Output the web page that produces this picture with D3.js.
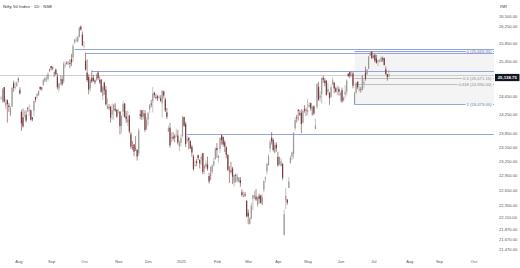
<!DOCTYPE html>
<html>
<head>
<meta charset="utf-8">
<script src="https://cdn.jsdelivr.net/npm/d3@7"></script>
<style>
html, body { margin: 0; padding: 0; background: #fff; }
svg { display: block; font-family: "Liberation Sans", Arial, sans-serif; }
</style>
</head>
<body>
<div id="chart"></div>
<script>
// daily candles: date, open, high, low, close
var candles = [
["2024-07-15",24587,24635,24522,24586],["2024-07-16",24600,24661,24587,24613],["2024-07-18",24543,24837,24504,24801],
["2024-07-19",24853,24854,24508,24531],["2024-07-22",24445,24596,24362,24509],["2024-07-23",24568,24582,24074,24479],
["2024-07-24",24445,24504,24307,24414],["2024-07-25",24230,24426,24211,24406],["2024-07-26",24423,24861,24410,24835],
["2024-07-29",24943,24999,24750,24836],["2024-07-30",24840,24971,24799,24857],["2024-07-31",24886,24984,24856,24951],
["2024-08-01",25030,25078,24956,25011],["2024-08-02",24789,24851,24686,24718],["2024-08-05",24303,24350,23893,24056],
["2024-08-06",24189,24382,23961,23993],["2024-08-07",24289,24337,24184,24297],["2024-08-08",24247,24340,24079,24117],
["2024-08-09",24387,24419,24311,24368],["2024-08-12",24321,24472,24212,24347],["2024-08-13",24343,24359,24116,24139],
["2024-08-14",24185,24196,24099,24143],["2024-08-16",24334,24563,24204,24541],["2024-08-19",24637,24638,24522,24572],
["2024-08-20",24648,24734,24602,24698],["2024-08-21",24680,24787,24654,24770],["2024-08-22",24863,24867,24784,24811],
["2024-08-23",24845,24858,24771,24823],["2024-08-26",24906,25043,24875,25010],["2024-08-27",25024,25073,24973,25017],
["2024-08-28",25031,25129,24965,25052],["2024-08-29",25035,25192,24999,25152],["2024-08-30",25249,25268,25199,25236],
["2024-09-02",25333,25333,25235,25279],["2024-09-03",25300,25321,25235,25280],["2024-09-04",25089,25216,25083,25198],
["2024-09-05",25250,25275,25127,25145],["2024-09-06",25094,25168,24801,24852],["2024-09-09",24823,24958,24753,24936],
["2024-09-10",24999,25130,24897,25041],["2024-09-11",25034,25113,24885,24918],["2024-09-12",24986,25433,24941,25389],
["2024-09-13",25352,25430,25292,25357],["2024-09-16",25406,25445,25360,25384],["2024-09-17",25416,25441,25352,25419],
["2024-09-18",25402,25482,25285,25378],["2024-09-19",25488,25611,25332,25416],["2024-09-20",25525,25849,25426,25791],
["2024-09-23",25873,25956,25847,25939],["2024-09-24",25921,26011,25886,25941],["2024-09-25",25900,26033,25871,26004],
["2024-09-26",26005,26250,25998,26216],["2024-09-27",26248,26277,26151,26179],["2024-09-30",26061,26134,25794,25811],
["2024-10-01",25788,25907,25739,25797],["2024-10-03",25453,25639,25230,25250],["2024-10-04",25181,25485,24967,25015],
["2024-10-07",25085,25143,24694,24796],["2024-10-08",24832,25044,24757,25013],["2024-10-09",25066,25234,24947,24982],
["2024-10-10",25067,25134,24979,24998],["2024-10-11",25002,25028,24920,24964],["2024-10-14",25023,25159,24990,25128],
["2024-10-15",25186,25212,25008,25057],["2024-10-16",25008,25094,24929,24971],["2024-10-17",25027,25029,24728,24750],
["2024-10-18",24664,24886,24568,24854],["2024-10-21",24956,24978,24679,24781],["2024-10-22",24798,24882,24445,24472],
["2024-10-23",24378,24605,24378,24436],["2024-10-24",24413,24480,24342,24399],["2024-10-25",24418,24440,24074,24181],
["2024-10-28",24252,24492,24135,24339],["2024-10-29",24329,24484,24141,24467],["2024-10-30",24371,24499,24307,24341],
["2024-10-31",24349,24372,24172,24205],
["2024-11-01",24302,24368,24280,24304],["2024-11-04",24315,24316,23816,23995],["2024-11-05",24000,24229,23842,24213],
["2024-11-06",24309,24537,24204,24484],["2024-11-07",24490,24503,24179,24199],["2024-11-08",24208,24322,24066,24148],
["2024-11-11",24087,24336,24004,24141],["2024-11-12",24225,24242,23839,23883],["2024-11-13",23822,23873,23510,23559],
["2024-11-14",23542,23675,23484,23533],["2024-11-18",23605,23606,23351,23453],["2024-11-19",23529,23781,23464,23518],
["2024-11-21",23488,23507,23263,23349],["2024-11-22",23411,23956,23359,23907],["2024-11-25",24254,24352,24145,24222],
["2024-11-26",24343,24343,24125,24194],["2024-11-27",24204,24354,24145,24275],["2024-11-28",24274,24345,23873,23914],
["2024-11-29",23927,24188,23927,24131],
["2024-12-02",24140,24301,24008,24276],["2024-12-03",24367,24481,24280,24457],["2024-12-04",24489,24574,24408,24467],
["2024-12-05",24540,24857,24295,24708],["2024-12-06",24729,24751,24620,24678],["2024-12-09",24633,24705,24580,24619],
["2024-12-10",24652,24677,24546,24610],["2024-12-11",24620,24691,24583,24642],["2024-12-12",24604,24675,24527,24549],
["2024-12-13",24498,24792,24181,24768],["2024-12-16",24754,24782,24601,24668],["2024-12-17",24584,24625,24303,24336],
["2024-12-18",24297,24395,24149,24199],["2024-12-19",23877,24004,23870,23952],["2024-12-20",23960,24065,23537,23588],
["2024-12-23",23738,23869,23647,23753],["2024-12-24",23770,23867,23685,23728],["2024-12-26",23775,23823,23653,23751],
["2024-12-27",23801,23939,23761,23813],["2024-12-30",23796,23915,23599,23645],["2024-12-31",23561,23690,23460,23645],
["2025-01-01",23637,23822,23562,23743],["2025-01-02",23783,24226,23751,24189],["2025-01-03",24196,24196,23976,24005],
["2025-01-06",24045,24089,23551,23616],["2025-01-07",23680,23795,23637,23708],["2025-01-08",23746,23751,23496,23689],
["2025-01-09",23674,23690,23503,23527],["2025-01-10",23552,23596,23345,23432],["2025-01-13",23349,23391,23048,23086],
["2025-01-14",23165,23264,23134,23176],["2025-01-15",23251,23293,23146,23213],["2025-01-16",23377,23391,23272,23312],
["2025-01-17",23277,23292,23100,23203],["2025-01-20",23290,23391,23170,23345],["2025-01-21",23421,23426,22976,23025],
["2025-01-22",23099,23169,22981,23155],["2025-01-23",23128,23270,23091,23205],["2025-01-24",23183,23347,23050,23092],
["2025-01-27",22941,23007,22786,22829],["2025-01-28",22961,23137,22857,22957],["2025-01-29",23026,23183,22976,23163],
["2025-01-30",23169,23322,23139,23250],["2025-01-31",23296,23546,23277,23508],
["2025-02-01",23528,23633,23318,23482],["2025-02-03",23319,23382,23222,23362],["2025-02-04",23509,23762,23424,23739],
["2025-02-05",23802,23807,23600,23696],["2025-02-06",23761,23773,23556,23603],["2025-02-07",23649,23694,23443,23560],
["2025-02-10",23543,23568,23316,23382],["2025-02-11",23383,23391,23046,23072],["2025-02-12",23050,23144,22798,23045],
["2025-02-13",23055,23236,22992,23031],["2025-02-14",23097,23133,22775,22929],["2025-02-17",22809,22974,22725,22959],
["2025-02-18",22963,22992,22801,22945],["2025-02-19",22847,22992,22814,22933],["2025-02-20",22821,22923,22812,22913],
["2025-02-21",22857,22921,22720,22796],["2025-02-24",22609,22668,22518,22553],["2025-02-25",22517,22625,22508,22547],
["2025-02-27",22568,22614,22508,22545],["2025-02-28",22433,22450,22105,22125],
["2025-03-03",22194,22261,21964,22119],["2025-03-04",21974,22105,21964,22083],["2025-03-05",22073,22394,22068,22337],
["2025-03-06",22476,22556,22245,22545],["2025-03-07",22508,22633,22464,22553],["2025-03-10",22521,22677,22429,22461],
["2025-03-11",22345,22522,22314,22498],["2025-03-12",22536,22578,22378,22471],["2025-03-13",22541,22558,22377,22397],
["2025-03-17",22354,22577,22353,22509],["2025-03-18",22662,22858,22599,22834],["2025-03-19",22874,22940,22807,22907],
["2025-03-20",23036,23216,22974,23191],["2025-03-21",23168,23402,23155,23350],["2025-03-24",23515,23708,23433,23658],
["2025-03-25",23751,23869,23601,23668],["2025-03-26",23700,23736,23452,23486],["2025-03-27",23433,23646,23412,23592],
["2025-03-28",23600,23649,23450,23519],
["2025-04-01",23342,23450,23136,23165],["2025-04-02",23192,23350,23158,23332],["2025-04-03",23150,23307,23145,23250],
["2025-04-04",23191,23214,22857,22904],["2025-04-07",21758,22255,21743,22162],["2025-04-08",22446,22698,22270,22536],
["2025-04-09",22460,22468,22353,22399],["2025-04-11",22695,22923,22695,22829],["2025-04-15",23207,23368,23207,23328],
["2025-04-16",23344,23452,23273,23437],["2025-04-17",23401,23872,23299,23852],["2025-04-21",23949,24189,23904,24125],
["2025-04-22",24185,24242,24072,24167],["2025-04-23",24357,24359,24119,24329],["2025-04-24",24277,24347,24216,24247],
["2025-04-25",24289,24365,23847,24039],["2025-04-28",24070,24355,24054,24328],["2025-04-29",24370,24457,24290,24336],
["2025-04-30",24343,24396,24216,24334],
["2025-05-02",24311,24589,24238,24347],["2025-05-05",24419,24526,24400,24461],["2025-05-06",24500,24510,24331,24380],
["2025-05-07",24233,24449,24220,24414],["2025-05-08",24431,24448,24234,24273],["2025-05-09",23935,24164,23935,24008],
["2025-05-12",24420,24944,24378,24925],["2025-05-13",24864,24974,24547,24578],["2025-05-14",24614,24767,24536,24667],
["2025-05-15",24694,25070,24494,25062],["2025-05-16",25064,25116,24953,25020],["2025-05-19",25005,25062,24875,24945],
["2025-05-20",24996,25011,24663,24684],["2025-05-21",24745,24946,24685,24813],["2025-05-22",24733,24737,24463,24610],
["2025-05-23",24639,24909,24614,24853],["2025-05-26",24919,25079,24900,25001],["2025-05-27",24957,24957,24717,24826],
["2025-05-28",24832,24864,24737,24752],["2025-05-29",24825,24892,24677,24834],["2025-05-30",24812,24864,24669,24751],
["2025-06-02",24669,24754,24526,24717],["2025-06-03",24786,24845,24502,24543],["2025-06-04",24561,24644,24530,24621],
["2025-06-05",24691,24899,24613,24751],["2025-06-06",24749,25029,24671,25003],["2025-06-09",25161,25161,25077,25103],
["2025-06-10",25196,25199,25055,25104],["2025-06-11",25134,25222,25081,25141],["2025-06-12",25164,25196,24825,24888],
["2025-06-13",24473,24754,24473,24718],["2025-06-16",24732,24967,24703,24946],["2025-06-17",24977,24983,24813,24853],
["2025-06-18",24788,24872,24750,24812],["2025-06-19",24803,24864,24734,24793],["2025-06-20",24787,25136,24783,25112],
["2025-06-23",24939,25057,24825,24972],["2025-06-24",25180,25318,24999,25045],["2025-06-25",25150,25266,25125,25245],
["2025-06-26",25268,25565,25259,25550],["2025-06-27",25576,25660,25553,25637],["2025-06-30",25661,25669,25490,25517],
["2025-07-01",25551,25593,25501,25542],["2025-07-02",25588,25608,25412,25454],["2025-07-03",25505,25587,25385,25405],
["2025-07-04",25428,25470,25331,25461],["2025-07-07",25450,25489,25407,25461],["2025-07-08",25428,25548,25424,25523],
["2025-07-09",25514,25548,25424,25476],["2025-07-10",25511,25525,25340,25355],["2025-07-11",25256,25323,25129,25150],
["2025-07-14",25149,25151,25001,25082],["2025-07-15",25090,25245,25088,25138.75]
];

var priceTicks = [26500, 26250, 25850, 25450, 25050, 24650, 24250, 23850, 23550, 23250, 22950, 22650, 22350, 22110, 21870, 21670, 21470];
var monthLabels = ["Aug", "Sep", "Oct", "Nov", "Dec", "2025", "Feb", "Mar", "Apr", "May", "Jun", "Jul", "Aug", "Sep", "Oct"];
// trading sessions in Jul, Aug, Sep 2025 (for the empty right part of the time axis)
var futureSessions = [23, 19, 22];

// horizontal rays: start date, price
var rays = [["2024-09-23", 25715], ["2024-10-03", 25630], ["2024-10-09", 25215], ["2025-01-07", 23830]];

// fib retracement
var fibHigh = 25669.35;
var fibLow = 24473.00;
var fibStart = "2025-06-13";
var fibLevels = [0, 0.5, 0.618, 1];

var title = "Nifty 50 Index \u00b7 1D \u00b7 NSE";
var currency = "INR";

var width = 520, height = 268;
var plotRight = 494;
var UP = "#9a9a9a", DOWN = "#7b3a3f";
var BLUE = "#93a6e0", GREY = "#bdbdbd";

var svg = d3.select("#chart").append("svg")
    .attr("width", width)
    .attr("height", height);

var dates = candles.map(function(d) { return d[0]; });
function idx(date) { return dates.indexOf(date); }

// bar index -> x, month starts anchored on Aug 1 2024 and Jul 1 2025
var x = d3.scaleLinear()
    .domain([idx("2024-08-01"), idx("2025-07-01")])
    .range([18.3, 373.3]);

var y = d3.scaleLog()
    .domain([21470, 26500])
    .range([249.6, 16.0]);

// month tick positions
var monthIdx = [];
candles.forEach(function(d, i) {
    var m = d[0].slice(0, 7);
    if (i > 0 && m !== candles[i - 1][0].slice(0, 7)) monthIdx.push(i);
});
var acc = monthIdx[monthIdx.length - 1];
futureSessions.forEach(function(n) { acc += n; monthIdx.push(acc); });

svg.append("defs").append("clipPath").attr("id", "clip")
    .append("rect").attr("x", 0).attr("y", 0).attr("width", plotRight).attr("height", 256);
var plot = svg.append("g").attr("clip-path", "url(#clip)");

// fib area
var fibX0 = x(idx(fibStart));
function fibPrice(l) { return Math.round((fibHigh - l * (fibHigh - fibLow)) / 0.05) * 0.05; }
plot.append("rect")
    .attr("x", fibX0).attr("y", y(fibHigh))
    .attr("width", plotRight - fibX0).attr("height", y(fibLow) - y(fibHigh))
    .attr("fill", "#f4f4f5");

// last price line
var last = candles[candles.length - 1][4];
plot.append("line")
    .attr("x1", 0).attr("x2", plotRight)
    .attr("y1", Math.round(y(last)) + 0.5).attr("y2", Math.round(y(last)) + 0.5)
    .attr("stroke", "#cfcfcf").attr("stroke-width", 1);

// rays
plot.selectAll("line.ray").data(rays).enter().append("line")
    .attr("class", "ray")
    .attr("x1", function(d) { return x(idx(d[0])); })
    .attr("x2", plotRight)
    .attr("y1", function(d) { return Math.round(y(d[1])) + 0.5; })
    .attr("y2", function(d) { return Math.round(y(d[1])) + 0.5; })
    .attr("stroke", BLUE).attr("stroke-width", 1);

// fib lines
var fmt2 = d3.format(",.2f");
fibLevels.forEach(function(l) {
    var p = fibPrice(l);
    var yy = Math.round(y(p)) + 0.5;
    var col = (l === 0 || l === 1) ? BLUE : GREY;
    var tcol = (l === 0 || l === 1) ? "#6f82bf" : "#8a8a8a";
    plot.append("line")
        .attr("x1", fibX0).attr("x2", plotRight)
        .attr("y1", yy).attr("y2", yy)
        .attr("stroke", col).attr("stroke-width", 1);
    var t = plot.append("text")
        .attr("x", 491.5).attr("y", yy)
        .attr("dy", "0.35em")
        .attr("text-anchor", "end")
        .attr("font-size", 4.2)
        .attr("fill", tcol)
        .text(l + " (" + fmt2(p) + ")");
    var bb = t.node().getBBox();
    plot.insert("rect", function() { return t.node(); })
        .attr("x", bb.x - 1).attr("y", yy - 1)
        .attr("width", bb.width + 2).attr("height", 2)
        .attr("fill", "#f4f4f5");
});

// candles
var bars = plot.selectAll("g.candle").data(candles).enter().append("g")
    .attr("class", "candle");
bars.append("line")
    .attr("x1", function(d, i) { return x(i); })
    .attr("x2", function(d, i) { return x(i); })
    .attr("y1", function(d) { return y(d[2]); })
    .attr("y2", function(d) { return y(d[3]); })
    .attr("stroke", function(d) { return d[4] >= d[1] ? UP : DOWN; })
    .attr("stroke-width", 0.6);
bars.append("rect")
    .attr("x", function(d, i) { return x(i) - 0.6; })
    .attr("width", 1.2)
    .attr("y", function(d) { return y(Math.max(d[1], d[4])); })
    .attr("height", function(d) { return Math.max(0.5, Math.abs(y(d[1]) - y(d[4]))); })
    .attr("fill", function(d) { return d[4] >= d[1] ? UP : DOWN; });

// title
svg.append("text")
    .attr("x", 3).attr("y", 7.5)
    .attr("font-size", 4.4)
    .attr("fill", "#333")
    .text(title);

// price axis
var yAxis = d3.axisRight(y)
    .tickValues(priceTicks)
    .tickFormat(fmt2)
    .tickSize(0)
    .tickPadding(3);
var ya = svg.append("g")
    .attr("transform", "translate(496,0)")
    .call(yAxis);
ya.select(".domain").remove();
ya.selectAll("text").attr("font-size", 4.1).attr("fill", "#555").attr("font-family", "Liberation Sans, Arial, sans-serif");

svg.append("text")
    .attr("x", 500).attr("y", 7.5)
    .attr("font-size", 4.1)
    .attr("fill", "#444")
    .text(currency);

// last price tag
var ly = y(last) + 3;
svg.append("rect")
    .attr("x", 495).attr("y", ly - 3.6)
    .attr("width", 24.5).attr("height", 7.2)
    .attr("fill", "#131722");
svg.append("text")
    .attr("x", 507.3).attr("y", ly)
    .attr("dy", "0.35em")
    .attr("text-anchor", "middle")
    .attr("font-size", 4.3)
    .attr("font-weight", "bold")
    .attr("fill", "#fff")
    .text(fmt2(last));

// time axis
var xAxis = d3.axisBottom(x)
    .tickValues(monthIdx)
    .tickFormat(function(d, i) { return monthLabels[i]; })
    .tickSize(0)
    .tickPadding(0);
var xa = svg.append("g")
    .attr("transform", "translate(0,260)")
    .call(xAxis);
xa.select(".domain").remove();
xa.selectAll("text").attr("font-size", 4.0).attr("fill", "#555").attr("font-family", "Liberation Sans, Arial, sans-serif");
</script>
</body>
</html>
